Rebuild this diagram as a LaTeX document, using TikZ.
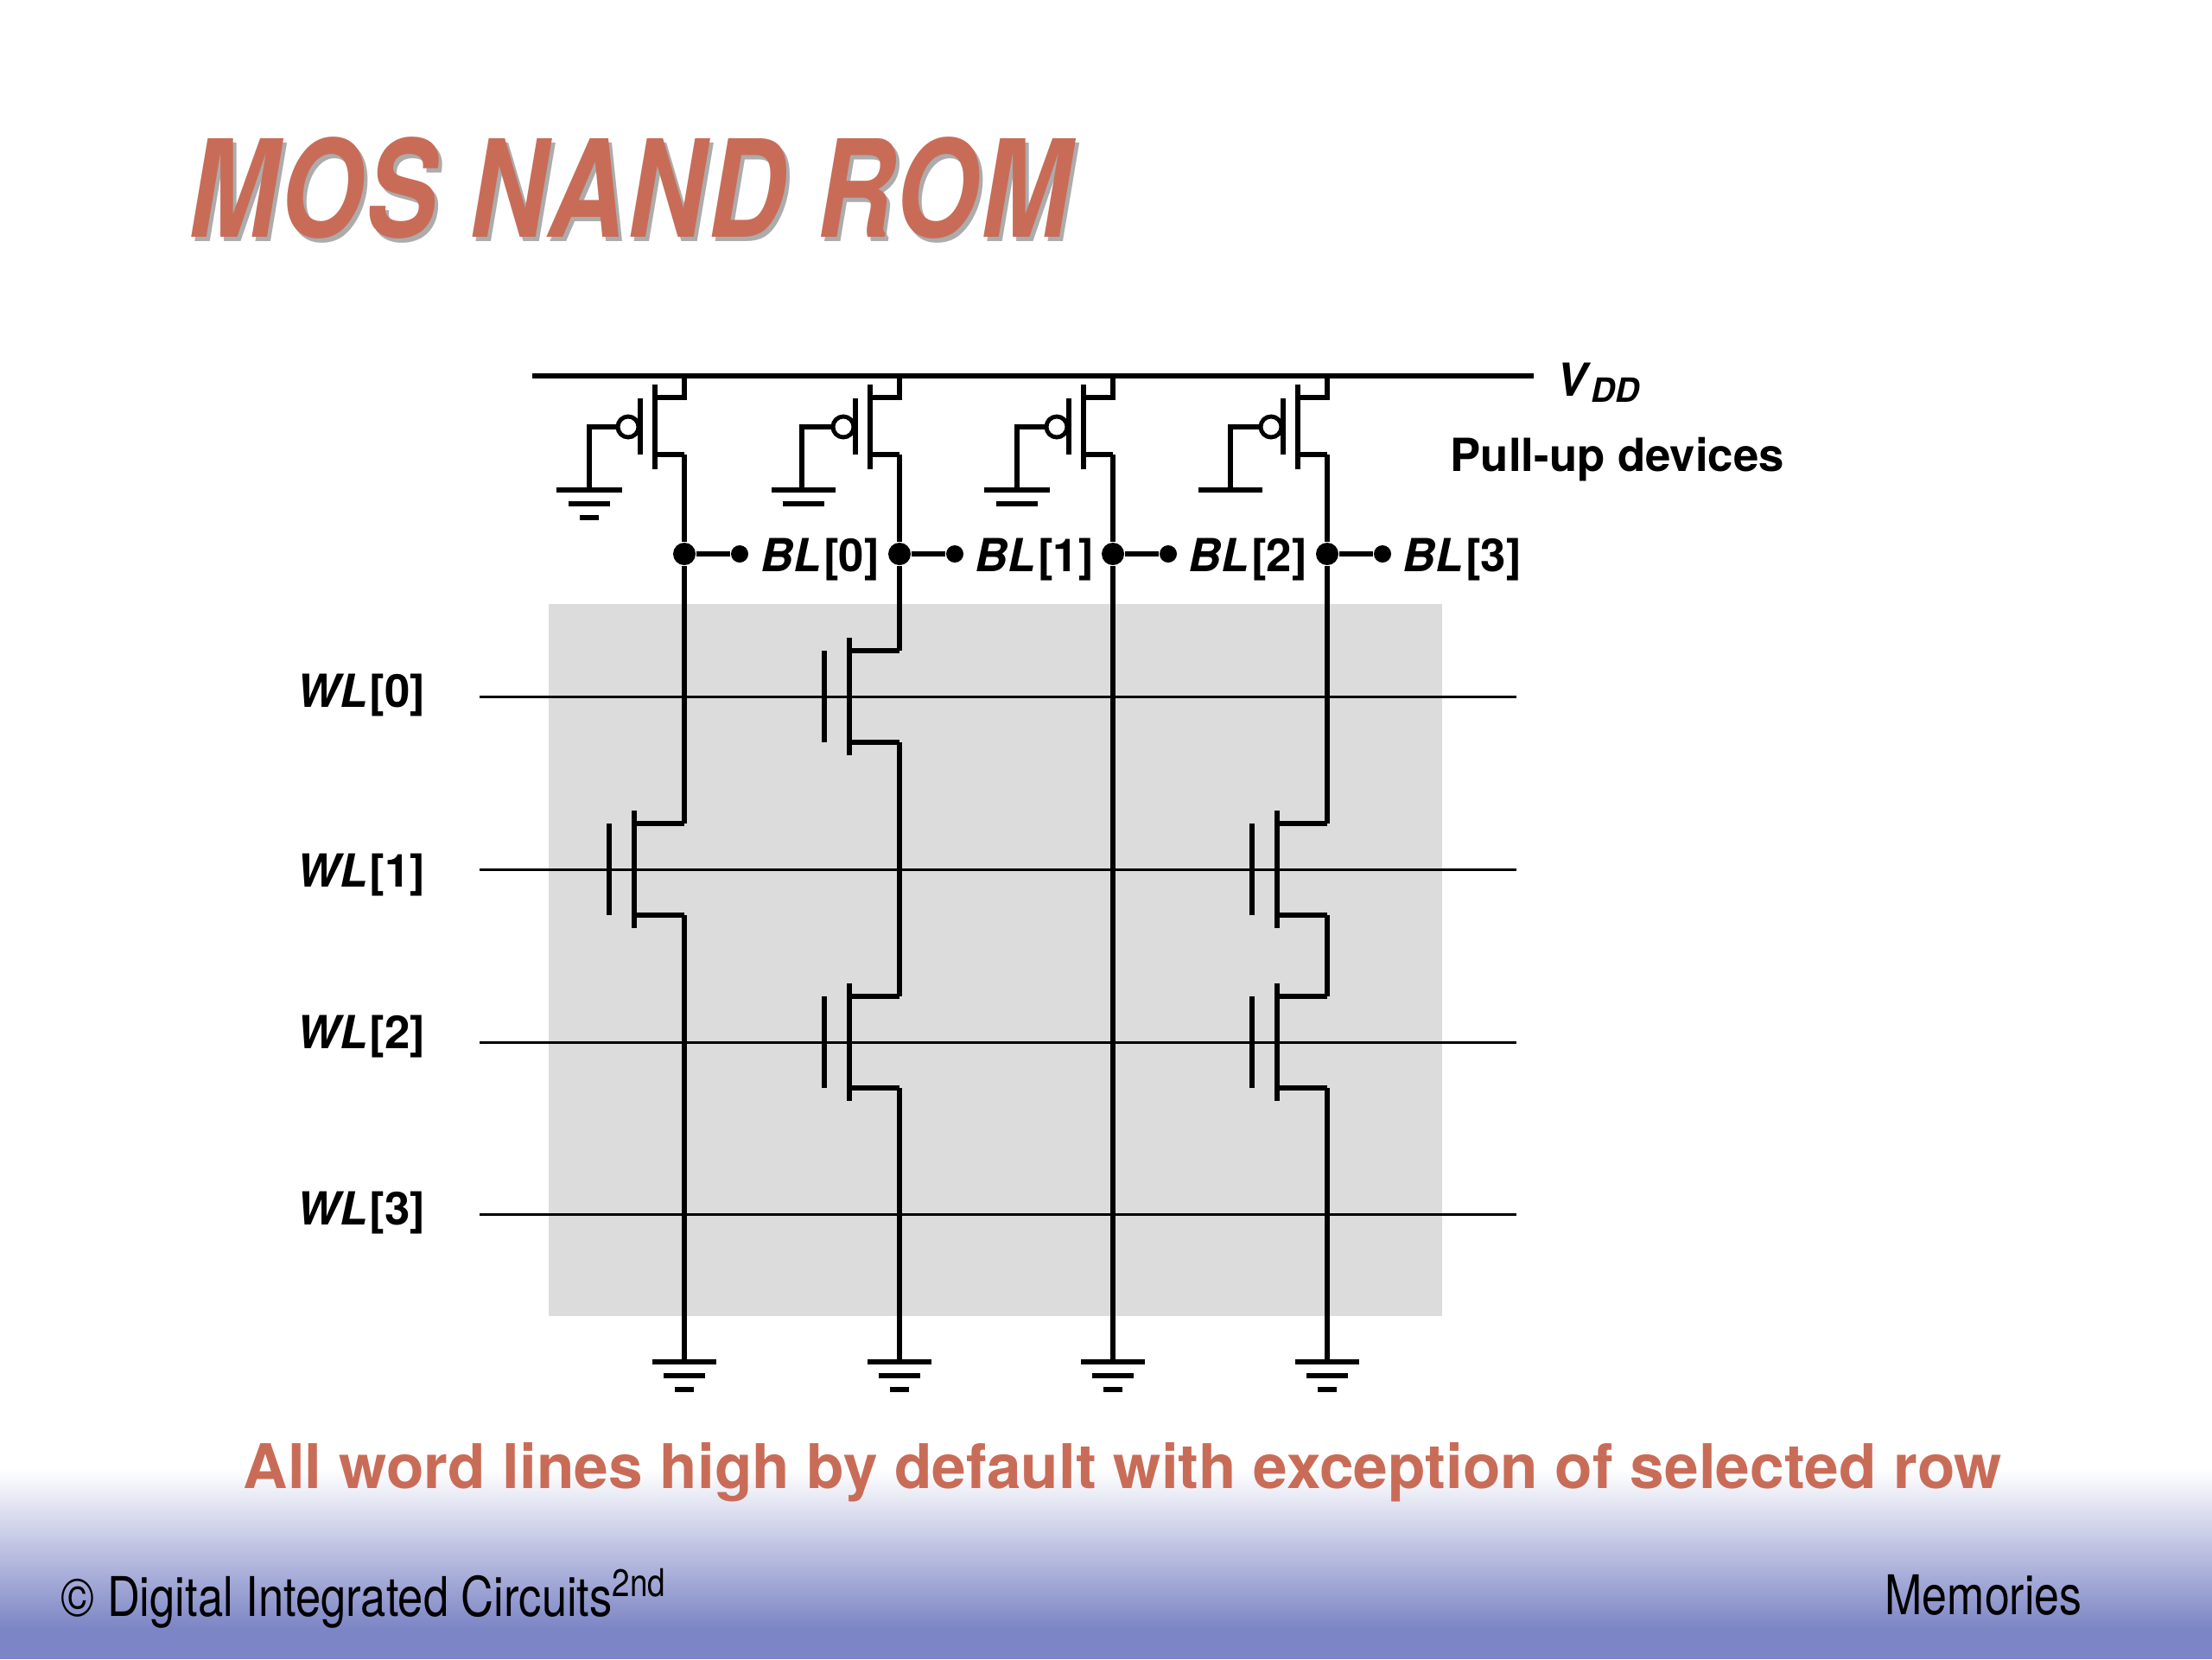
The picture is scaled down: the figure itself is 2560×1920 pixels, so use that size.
\documentclass[tikz,border=0pt]{standalone}
\usepackage{fontspec}
\setmainfont{TeX Gyre Heros}
\usetikzlibrary{positioning,calc}
\definecolor{titlered}{HTML}{C96C57}
\definecolor{footblue}{HTML}{7C85C5}
\definecolor{arraygrey}{HTML}{DCDCDC}
\newcommand{\lblfont}{\fontsize{15}{15}\selectfont\bfseries}
\newcommand{\titlefont}{\fontsize{44.5}{44.5}\selectfont\bfseries\itshape\addfontfeature{LetterSpace=2.5}}
% pull-up device: #1 name, #2 bit line x, #3 x of gate wire, #4 y of ground bar
\newcommand{\pmosdev}[4]{
    \coordinate (#1s) at (#2,460);
    \coordinate (#1d) at (#2,526);
    \draw[wire] (#2,435) -- (#1s) -- (#2-34,460);
    \draw[wire] (#1d) -- (#2-34,526);
    \draw[wire] (#2-34,445) -- (#2-34,543);
    \draw[wire] (#2-51,461) -- (#2-51,526);
    \node[bubble] (#1g) at (#2-65,494) {};
    \draw[wire] (#1g) -| (#3,#4);
}
% array device: #1 name, #2 bit line x, #3 word line y
\newcommand{\nmosdev}[3]{
    \coordinate (#1d) at (#2,#3-53);
    \coordinate (#1s) at (#2,#3+53);
    \draw[wire] (#1d) -- (#2-58,#3-53);
    \draw[wire] (#1s) -- (#2-58,#3+53);
    \draw[wire] (#2-58,#3-68) -- (#2-58,#3+68);
    \draw[wire] (#2-87,#3-53) -- (#2-87,#3+53);
}
\newcommand{\gndbar}[3]{\draw[bar] (#1-#3,#2) -- (#1+#3,#2);}
\begin{document}
\begin{tikzpicture}[x=0.01cm,y=-0.01cm]
            \tikzstyle{wire}=[line width=1.5pt]
            \tikzstyle{bar}=[line width=1.5pt]
            \tikzstyle{wordline}=[line width=0.85pt]
            \tikzstyle{bigdot}=[circle, fill=black, inner sep=0pt, minimum size=0.26cm]
            \tikzstyle{tapdot}=[circle, fill=black, inner sep=0pt, minimum size=0.2cm]
            \tikzstyle{bubble}=[circle, draw, line width=1.4pt, fill=white, inner sep=0pt, minimum size=0.24cm]
            \tikzstyle{lbl}=[anchor=base west, inner sep=0pt, font=\lblfont]
            \useasboundingbox (0,0) rectangle (2560,1920);
            \fill[white] (0,0) rectangle (2560,1920);
            \shade[top color=white, bottom color=footblue] (0,1700) rectangle (2560,1885);
            \fill[footblue] (0,1885) rectangle (2560,1920);
            \fill[arraygrey] (635,699) rectangle (1669,1523);
            \node[anchor=base west, inner sep=0pt, text=gray!65] (titleshadow) at (222,279)
                {\scalebox{0.79}[1]{\titlefont MOS NAND ROM}};
            \node[anchor=base west, inner sep=0pt, text=titlered] (title) at (218,274)
                {\scalebox{0.79}[1]{\titlefont MOS NAND ROM}};
            % word lines
            \coordinate (wl0a) at (555,806);  \coordinate (wl0b) at (1755,806);
            \coordinate (wl1a) at (555,1006); \coordinate (wl1b) at (1755,1006);
            \coordinate (wl2a) at (555,1206); \coordinate (wl2b) at (1755,1206);
            \coordinate (wl3a) at (555,1405); \coordinate (wl3b) at (1755,1405);
            \draw[wordline] (wl0a) -- (wl0b);
            \draw[wordline] (wl1a) -- (wl1b);
            \draw[wordline] (wl2a) -- (wl2b);
            \draw[wordline] (wl3a) -- (wl3b);
            % supply
            \coordinate (vdda) at (616,435);
            \coordinate (vddb) at (1775,435);
            \draw[line width=1.5pt] (vdda) -- (vddb);
            \pmosdev{p0}{792}{682}{567}
            \pmosdev{p1}{1041}{928}{567}
            \pmosdev{p2}{1288}{1177}{567}
            \pmosdev{p3}{1536}{1424}{567}
            \gndbar{682}{567}{38} \gndbar{682}{583}{24} \gndbar{682}{599}{11}
            \gndbar{930}{567}{37} \gndbar{930}{583}{24}
            \gndbar{1177}{567}{38} \gndbar{1177}{583}{24}
            \gndbar{1424}{567}{37}
            % bit line taps
            \node[bigdot] (bl0) at (792,641) {};
            \node[bigdot] (bl1) at (1041,641) {};
            \node[bigdot] (bl2) at (1288,641) {};
            \node[bigdot] (bl3) at (1536,641) {};
            \node[tapdot] (tap0) at (856,641) {};
            \node[tapdot] (tap1) at (1105,641) {};
            \node[tapdot] (tap2) at (1352,641) {};
            \node[tapdot] (tap3) at (1600,641) {};
            \draw[wire] (bl0) -- (tap0);
            \draw[wire] (bl1) -- (tap1);
            \draw[wire] (bl2) -- (tap2);
            \draw[wire] (bl3) -- (tap3);
            % array devices
            \nmosdev{m0}{1041}{806}
            \nmosdev{m1}{792}{1006}
            \nmosdev{m2}{1536}{1006}
            \nmosdev{m3}{1041}{1206}
            \nmosdev{m4}{1536}{1206}
            \coordinate (g0) at (792,1576);
            \coordinate (g1) at (1041,1576);
            \coordinate (g2) at (1288,1576);
            \coordinate (g3) at (1536,1576);
            \draw[wire] (p0d) -- (bl0) -- (m1d);
            \draw[wire] (m1s) -- (g0);
            \draw[wire] (p1d) -- (bl1) -- (m0d);
            \draw[wire] (m0s) -- (m3d);
            \draw[wire] (m3s) -- (g1);
            \draw[wire] (p2d) -- (bl2) -- (g2);
            \draw[wire] (p3d) -- (bl3) -- (m2d);
            \draw[wire] (m2s) -- (m4d);
            \draw[wire] (m4s) -- (g3);
            \foreach \gx in {792,1041,1288,1536}{
                \gndbar{\gx}{1576}{37} \gndbar{\gx}{1592}{24} \gndbar{\gx}{1608}{11}
            }
            % labels
            \node[lbl] (vddlbl) at (1801,458) {\textit{V}\raisebox{-0.25ex}{\fontsize{11}{11}\selectfont\textit{DD}}};
            \node[lbl] (pulluplbl) at (1678,545) {Pull-up devices};
            \node[lbl] (bllbl0) at (880,661) {\textit{BL}\kern0.04em[0]};
            \node[lbl] (bllbl1) at (1128,661) {\textit{BL}\kern0.04em[1]};
            \node[lbl] (bllbl2) at (1375,661) {\textit{BL}\kern0.04em[2]};
            \node[lbl] (bllbl3) at (1623,661) {\textit{BL}\kern0.04em[3]};
            \node[lbl] (wllbl0) at (343,818) {\textit{WL}\kern0.04em[0]};
            \node[lbl] (wllbl1) at (343,1026) {\textit{WL}\kern0.04em[1]};
            \node[lbl] (wllbl2) at (343,1213) {\textit{WL}\kern0.04em[2]};
            \node[lbl] (wllbl3) at (343,1417) {\textit{WL}\kern0.04em[3]};
            \node[anchor=base west, inner sep=0pt, text=titlered] (note) at (281,1722)
                {\fontsize{20.25}{20.25}\selectfont\bfseries All word lines high by default with exception of selected row};
            \node[anchor=base west, inner sep=0pt] (copyr) at (70,1870)
                {\scalebox{0.83}[1]{\fontsize{18}{18}\selectfont\textcopyright{} Digital Integrated Circuits\textsuperscript{2nd}}};
            \node[anchor=base west, inner sep=0pt] (chapter) at (2181,1868)
                {\scalebox{0.82}[1]{\fontsize{18}{18}\selectfont Memories}};
\end{tikzpicture}
\end{document}
